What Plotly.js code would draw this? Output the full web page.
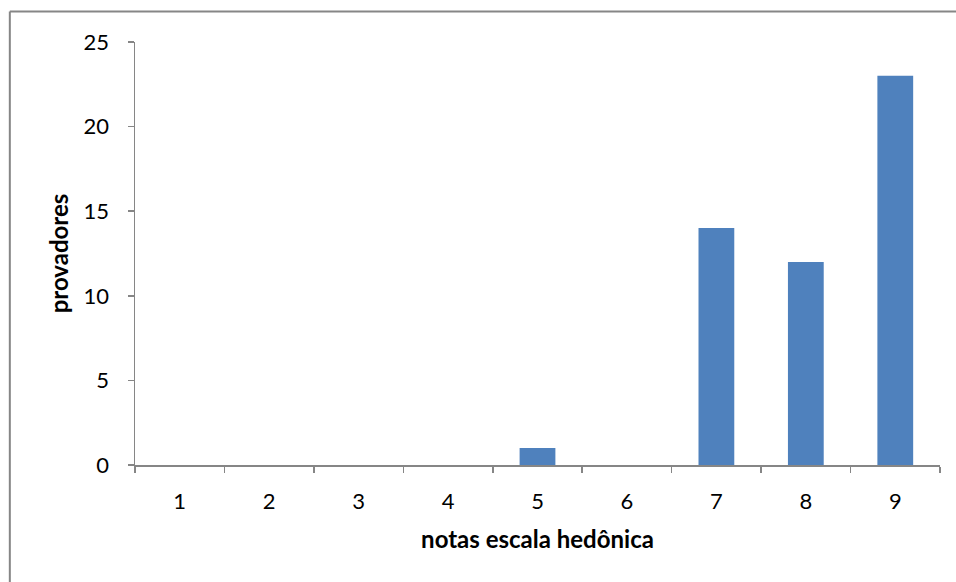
<!DOCTYPE html>
<html>
<head>
<meta charset="utf-8">
<script src="https://cdn.plot.ly/plotly-3.0.1.min.js"></script>
<style>html,body{margin:0;padding:0;background:#fff;}#chart{width:956px;height:582px;}</style>
</head>
<body>
<div id="chart"></div>
<script>
var categories = ['1','2','3','4','5','6','7','8','9'];
var provadores = [0,0,0,0,1,0,14,12,23];
var yTicks = [0,5,10,15,20,25];

var FONT = 'Lato, "Open Sans", sans-serif';
var trace = {
  type: 'bar',
  x: categories,
  y: provadores,
  marker: {color: '#4F81BD', line: {width: 0}},
  hoverinfo: 'x+y'
};
var layout = {
  width: 956, height: 582,
  margin: {l: 135, r: 16, t: 42, b: 117},
  paper_bgcolor: '#fff', plot_bgcolor: '#fff',
  bargap: 0.6,
  showlegend: false,
  font: {family: FONT, size: 22, color: '#000'},
  xaxis: {
    type: 'category',
    tickson: 'boundaries',
    ticks: 'outside', ticklen: 6, tickcolor: '#868686', tickwidth: 1.5,
    showline: true, linecolor: '#868686', linewidth: 1.5,
    showgrid: false, zeroline: false,
    tickfont: {family: FONT, size: 22},
    ticklabelstandoff: 16,
    title: {text: 'notas escala hedônica', font: {family: FONT, size: 24, weight: 'bold'}, standoff: 18}
  },
  yaxis: {
    range: [0, 25],
    tickvals: yTicks,
    ticktext: yTicks.map(String),
    ticks: 'outside', ticklen: 6, tickcolor: '#868686', tickwidth: 1.5,
    showline: true, linecolor: '#868686', linewidth: 1.5,
    showgrid: false, zeroline: false,
    tickfont: {family: FONT, size: 22},
    ticklabelstandoff: 14,
    title: {text: 'provadores', font: {family: FONT, size: 24, weight: 'bold'}, standoff: 8}
  },
  shapes: [
    {type: 'line', xref: 'paper', yref: 'paper', x0: -0.1555, x1: 1.2, y0: 1.0722, y1: 1.0722, line: {color: '#868686', width: 2}},
    {type: 'line', xref: 'paper', yref: 'paper', x0: -0.1555, x1: -0.1555, y0: 1.0722, y1: -0.5, line: {color: '#868686', width: 2}}
  ]
};
Plotly.newPlot('chart', [trace], layout, {displayModeBar: false, staticPlot: true});
</script>
</body>
</html>
